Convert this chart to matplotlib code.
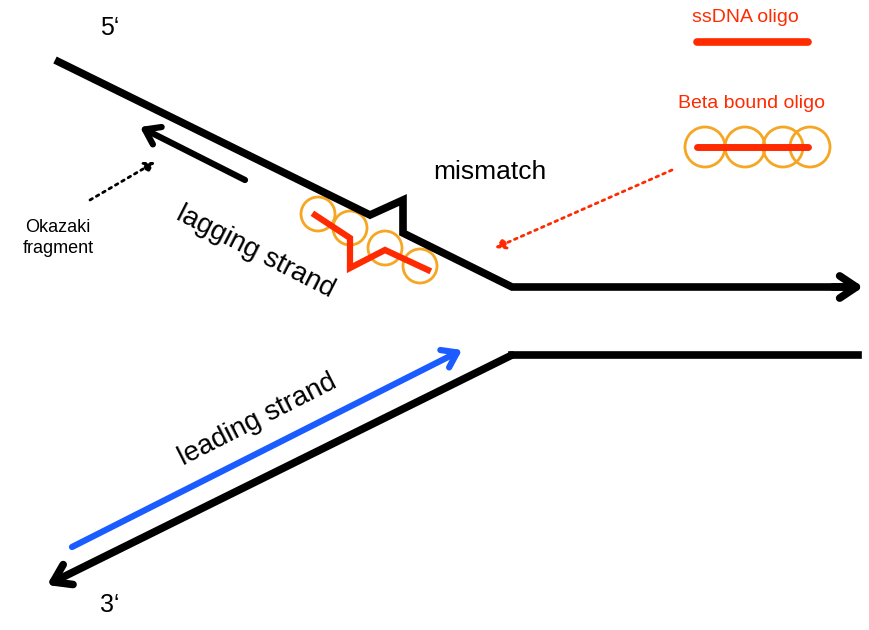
import matplotlib
matplotlib.use("Agg")
import matplotlib.pyplot as plt
from matplotlib.patches import Circle

# diagram geometry (pixel coordinates, y downward)
top_x = [55, 370, 403, 403, 512, 855]
top_y = [60, 215, 200, 233, 287, 287]
bot_x = [858, 512, 60]
bot_y = [355, 355, 578]
okazaki = [(245, 180), (140, 127)]
leading = [(72, 547), (462, 350)]
zig_x = [315, 350, 350, 385, 428]
zig_y = [215, 238, 268, 250, 270]
circ_x = [318, 350, 385, 420]
circ_y = [214, 228, 248, 266]
leg_circ_x = [705, 745, 783, 810]
leg_circ_y = 147

RED = "#ff2a00"
ORANGE = "#f5a623"
BLUE = "#1a5cff"

fig = plt.figure(figsize=(8.69, 6.3), dpi=100)
ax = fig.add_axes([0, 0, 1, 1])
ax.set_xlim(0, 869)
ax.set_ylim(630, 0)
ax.axis("off")

lw = 5.5
ax.plot(top_x, top_y, color="black", lw=lw, solid_joinstyle="miter", solid_capstyle="butt")
ax.annotate("", xy=(866, 287), xytext=(830, 287),
            arrowprops=dict(arrowstyle="->,head_length=1.2,head_width=0.8", lw=lw, color="black"))
ax.plot(bot_x[:2], bot_y[:2], color="black", lw=lw)
ax.annotate("", xy=(47, 585), xytext=bot_xy if False else (bot_x[1], bot_y[1]),
            arrowprops=dict(arrowstyle="->,head_length=1.2,head_width=0.8", lw=lw, color="black",
                            shrinkA=0, shrinkB=0))
ax.annotate("", xy=okazaki[1], xytext=okazaki[0],
            arrowprops=dict(arrowstyle="->,head_length=1.0,head_width=0.7", lw=4.5, color="black",
                            shrinkA=0, shrinkB=0))
ax.annotate("", xy=leading[1], xytext=leading[0],
            arrowprops=dict(arrowstyle="->,head_length=1.0,head_width=0.7", lw=4.5, color=BLUE,
                            shrinkA=0, shrinkB=0))
ax.annotate("", xy=(155, 162), xytext=(90, 200),
            arrowprops=dict(arrowstyle="-|>,head_length=0.6,head_width=0.35", lw=2, ls=":", color="black",
                            shrinkA=0, shrinkB=0))
ax.annotate("", xy=(495, 248), xytext=(672, 170),
            arrowprops=dict(arrowstyle="-|>,head_length=0.6,head_width=0.35", lw=2, ls=":", color=RED,
                            shrinkA=0, shrinkB=0))

for cx, cy in zip(circ_x, circ_y):
    ax.add_patch(Circle((cx, cy), 17, fill=False, ec=ORANGE, lw=2))
ax.plot(zig_x, zig_y, color=RED, lw=4.5, solid_joinstyle="miter")

ax.plot([697, 808], [42, 42], color=RED, lw=5.5, solid_capstyle="round")
for cx in leg_circ_x:
    ax.add_patch(Circle((cx, leg_circ_y), 20, fill=False, ec=ORANGE, lw=2))
ax.plot([697, 808], [147, 147], color=RED, lw=5, solid_capstyle="round")

ax.text(745, 18, "ssDNA oligo", color=RED, fontsize=14, ha="center", va="center", family="Liberation Sans")
ax.text(752, 103, "Beta bound oligo", color=RED, fontsize=14, ha="center", va="center", family="Liberation Sans")
ax.text(490, 172, "mismatch", fontsize=19, ha="center", va="center", family="Liberation Sans")
ax.text(110, 28, "5‘", fontsize=18, ha="center", va="center", family="Liberation Sans")
ax.text(110, 605, "3‘", fontsize=18, ha="center", va="center", family="Liberation Sans")
ax.text(58, 238, "Okazaki\nfragment", fontsize=13, ha="center", va="center", family="Liberation Sans",
        linespacing=1.3)
ax.text(255, 252, "lagging strand", fontsize=20, ha="center", va="center", rotation=-27,
        family="Liberation Sans", rotation_mode="anchor")
ax.text(258, 420, "leading strand", fontsize=20, ha="center", va="center", rotation=27,
        family="Liberation Sans", rotation_mode="anchor")

fig.savefig("out.png", dpi=100)
